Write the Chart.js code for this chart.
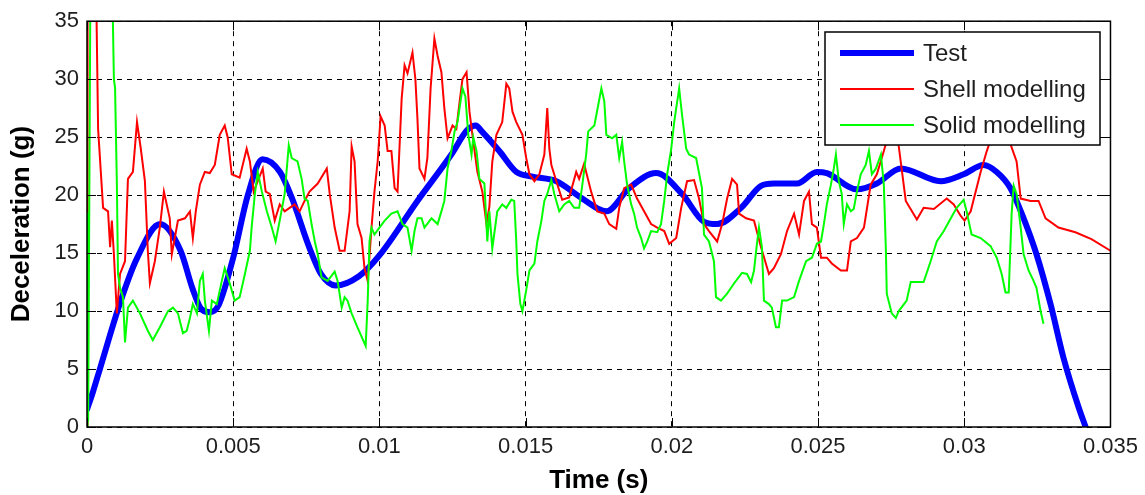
<!DOCTYPE html>
<html>
<head>
<meta charset="utf-8">
<title>Deceleration vs time</title>
<script src="https://cdn.jsdelivr.net/npm/chart.js@4.4.1/dist/chart.umd.min.js"></script>
<style>
  html, body { margin: 0; padding: 0; background: #fff; }
  #decel-chart { display: block; }
</style>
</head>
<body>
<canvas id="decel-chart" width="1145" height="495"></canvas>
<script>
'use strict';

// DATA (time in s, deceleration in g)

let timeTicks = ['0', '0.005', '0.01', '0.015', '0.02', '0.025', '0.03', '0.035'];
let decelTicks = ['0', '5', '10', '15', '20', '25', '30', '35'];

let seriesNames = ['Test', 'Shell modelling', 'Solid modelling'];

let testTime = [
  0, 0.0002, 0.00044, 0.00113, 0.0017, 0.0025, 0.0032, 0.0036, 0.0039, 0.0042,
  0.0045, 0.0050, 0.0055, 0.0060, 0.0066, 0.0070, 0.0076, 0.0080, 0.0085, 0.0093,
  0.0100, 0.0113, 0.01246, 0.0130, 0.0133, 0.0135, 0.0141, 0.01468, 0.01523, 0.01605,
  0.01694, 0.01776, 0.01854, 0.01946, 0.02035, 0.0211, 0.02155, 0.02237, 0.02305, 0.02349,
  0.02428, 0.02496, 0.0253, 0.02633, 0.02701, 0.02783, 0.02919, 0.02998, 0.03066, 0.03111,
  0.03158, 0.03203, 0.03247, 0.03295, 0.03339, 0.03391, 0.03415
];
let testDecel = [
  1.5, 3, 5, 10.7, 14.5, 17.5, 15.2, 12, 10.2, 9.9,
  10.5, 14.6, 20, 23.1, 22, 19.8, 15.5, 13.2, 12.2, 13,
  14.8, 19.5, 23.5, 25.6, 26, 25.5, 23.8, 22, 21.6, 21.2,
  19.7, 18.6, 20.6, 21.9, 20.1, 17.7, 17.5, 18.9, 20.8, 21,
  21, 22, 21.9, 20.5, 21, 22.3, 21.2, 21.8, 22.6, 22,
  20.6, 18, 14.9, 10.6, 6, 1.7, 0
];

let shellTime = [
  0, 0.00002, 0.00030, 0.00038, 0.00055, 0.00072, 0.00079, 0.00085, 0.00092, 0.00102,
  0.00113, 0.00130, 0.00140, 0.00157, 0.00171, 0.00184, 0.00198, 0.00208, 0.00215, 0.00232,
  0.00249, 0.00263, 0.00283, 0.00290, 0.00311, 0.00335, 0.00352, 0.00362, 0.00372, 0.00386,
  0.00403, 0.00420, 0.00437, 0.00454, 0.00471, 0.00481, 0.00495, 0.00522, 0.00546, 0.00557,
  0.00570, 0.00584, 0.00601, 0.00611, 0.00625, 0.00642, 0.00659, 0.00676, 0.00693, 0.00710,
  0.00727, 0.00744, 0.00761, 0.00789, 0.00820, 0.00830, 0.00847, 0.00864, 0.00881, 0.00898,
  0.00905, 0.00915, 0.00925, 0.00939, 0.00949, 0.00960, 0.00973, 0.00983, 0.00994, 0.01004,
  0.01018, 0.01028, 0.01041, 0.01052, 0.01062, 0.01076, 0.01086, 0.01096, 0.01113, 0.01123,
  0.01130, 0.01137, 0.01154, 0.01164, 0.01175, 0.01188, 0.01199, 0.01212, 0.01222, 0.01233,
  0.01250, 0.01263, 0.01274, 0.01284, 0.01298, 0.01308, 0.01318, 0.01335, 0.01352, 0.01366,
  0.01376, 0.01386, 0.01400, 0.01420, 0.01434, 0.01444, 0.01455, 0.01468, 0.01489, 0.01502,
  0.01513, 0.01530, 0.01547, 0.01564, 0.01574, 0.01581, 0.01588, 0.01605, 0.01625, 0.01649,
  0.01673, 0.01683, 0.01700, 0.01724, 0.01745, 0.01769, 0.01786, 0.01810, 0.01820, 0.01837,
  0.01861, 0.01881, 0.01905, 0.01929, 0.01950, 0.01974, 0.01991, 0.02015, 0.02032, 0.02052,
  0.02076, 0.02093, 0.02110, 0.02127, 0.02155, 0.02172, 0.02189, 0.02206, 0.02223, 0.02230,
  0.02254, 0.02281, 0.02305, 0.02332, 0.02349, 0.02373, 0.02394, 0.02418, 0.02435, 0.02452,
  0.02469, 0.02479, 0.02496, 0.02510, 0.02530, 0.02547, 0.02578, 0.02599, 0.02612, 0.02633,
  0.02657, 0.02680, 0.02701, 0.02725, 0.02749, 0.02762, 0.02776, 0.02800, 0.02838, 0.02861,
  0.02896, 0.02940, 0.02964, 0.02988, 0.03001, 0.03022, 0.03056, 0.03077, 0.03100, 0.03135,
  0.03158, 0.03179, 0.03193, 0.03227, 0.03254, 0.03278, 0.03322, 0.03380, 0.03435, 0.03500
];
let shellDecel = [
  0, 40, 40, 25.7, 18.9, 18.6, 15.5, 17.8, 14.9, 9.8,
  13.2, 14.3, 21.4, 22, 26.3, 24, 21.2, 15.2, 12.4, 14.3,
  17.2, 20.3, 18, 14.9, 17.8, 18, 18.6, 16.3, 18.6, 20.9,
  22, 21.9, 22.6, 25.2, 26, 25, 21.8, 21.5, 24, 22.9,
  20.3, 21.2, 22.3, 20.3, 20.1, 17.8, 19.2, 18.6, 18.9, 19.2,
  18.6, 19.5, 20.3, 21, 22.3, 20.1, 17.2, 15.2, 15.2, 18.6,
  24.2, 22.9, 17.5, 16.3, 13.7, 12.6, 17.2, 20.3, 22.9, 26.8,
  26, 23.8, 23.8, 20.6, 20.3, 28.3, 31.2, 30.5, 32.3, 30,
  26.6, 22.3, 21.4, 23.2, 29.2, 33.5, 32, 30.6, 27.5, 24.9,
  26, 25.7, 28, 30, 30.6, 27.2, 25.2, 22, 20.3, 17.5,
  19, 22.9, 25.2, 26.3, 29.6, 29.2, 27.2, 26.3, 25.2, 23.2,
  21.8, 21.2, 21.8, 23.5, 27.5, 24, 22.6, 21.2, 19.6, 19.8,
  22, 21.4, 22.7, 20.3, 18.6, 18.4, 17.5, 17.1, 18.9, 20.6,
  20.9, 19.7, 18.6, 17.5, 17.2, 16.9, 15.8, 16.3, 18.9, 21.2,
  21.3, 19.7, 17.5, 16.9, 16, 17.5, 19.7, 21.4, 20.9, 18.4,
  18, 17.8, 15.5, 13.2, 13.7, 14.9, 16.9, 18.4, 16.6, 19.5,
  20.3, 17.5, 17.2, 14.6, 14.6, 14.1, 13.5, 13.5, 16, 16.3,
  17.2, 20.9, 21.8, 23.8, 26, 26, 24.2, 19.5, 17.9, 18.9,
  18.8, 19.7, 19.2, 18.2, 17.8, 18.6, 22, 23.8, 25.5, 26,
  24.4, 22.9, 19.7, 19.5, 19.5, 18, 17.2, 16.8, 16.2, 15.2
];

let solidTime = [
  0, 0.00002, 0.00004, 0.00012, 0.00085, 0.00092, 0.00096, 0.00102, 0.00106, 0.00113,
  0.00123, 0.00130, 0.00140, 0.00157, 0.00181, 0.00208, 0.00225, 0.00249, 0.00277, 0.00294,
  0.00311, 0.00328, 0.00341, 0.00352, 0.00362, 0.00376, 0.00386, 0.00396, 0.00403, 0.00417,
  0.00427, 0.00444, 0.00461, 0.00471, 0.00488, 0.00505, 0.00522, 0.00540, 0.00557, 0.00563,
  0.00574, 0.00584, 0.00598, 0.00615, 0.00632, 0.00645, 0.00659, 0.00676, 0.00690, 0.00700,
  0.00720, 0.00734, 0.00744, 0.00755, 0.00768, 0.00779, 0.00789, 0.00802, 0.00823, 0.00847,
  0.00857, 0.00871, 0.00881, 0.00891, 0.00905, 0.00925, 0.00953, 0.00960, 0.00966, 0.00973,
  0.00983, 0.01000, 0.01018, 0.01041, 0.01062, 0.01079, 0.01096, 0.01110, 0.01120, 0.01130,
  0.01144, 0.01154, 0.01178, 0.01199, 0.01212, 0.01222, 0.01233, 0.01246, 0.01257, 0.01267,
  0.01284, 0.01294, 0.01304, 0.01315, 0.01321, 0.01332, 0.01342, 0.01359, 0.01369, 0.01376,
  0.01386, 0.01403, 0.01420, 0.01434, 0.01451, 0.01461, 0.01468, 0.01472, 0.01482, 0.01489,
  0.01502, 0.01513, 0.01530, 0.01540, 0.01554, 0.01564, 0.01574, 0.01588, 0.01598, 0.01615,
  0.01632, 0.01649, 0.01666, 0.01683, 0.01694, 0.01707, 0.01714, 0.01735, 0.01759, 0.01769,
  0.01776, 0.01796, 0.01810, 0.01820, 0.01830, 0.01837, 0.01847, 0.01861, 0.01871, 0.01881,
  0.01895, 0.01905, 0.01916, 0.01929, 0.01950, 0.01963, 0.01974, 0.01984, 0.01998, 0.02008,
  0.02025, 0.02035, 0.02049, 0.02059, 0.02083, 0.02103, 0.02110, 0.02127, 0.02144, 0.02151,
  0.02168, 0.02189, 0.02213, 0.02240, 0.02257, 0.02271, 0.02281, 0.02291, 0.02298, 0.02308,
  0.02315, 0.02332, 0.02342, 0.02356, 0.02366, 0.02377, 0.02394, 0.02418, 0.02435, 0.02459,
  0.02479, 0.02496, 0.02510, 0.02520, 0.02530, 0.02544, 0.02554, 0.02561, 0.02571, 0.02581,
  0.02588, 0.02599, 0.02612, 0.02622, 0.02633, 0.02646, 0.02663, 0.02674, 0.02684, 0.02698,
  0.02715, 0.02725, 0.02732, 0.02735, 0.02752, 0.02766, 0.02776, 0.02803, 0.02817, 0.02861,
  0.02885, 0.02906, 0.02930, 0.02954, 0.02974, 0.02998, 0.03008, 0.03025, 0.03056, 0.03090,
  0.03111, 0.03128, 0.03141, 0.03152, 0.03162, 0.03169, 0.03179, 0.03193, 0.03203, 0.03220,
  0.03237, 0.03247, 0.03261, 0.03271
];
let solidDecel = [
  0, 18.5, 0.5, 40, 40, 30, 29.2, 21.2, 13.2, 12,
  11.2, 7.3, 10.3, 10.9, 9.8, 8.3, 7.5, 8.6, 10, 10.3,
  9.8, 8.1, 8.3, 9.4, 10.6, 9.8, 12.6, 13.2, 10.9, 8.3,
  10.9, 10.6, 12.6, 13.7, 12.4, 10.9, 11.2, 13.2, 15.2, 17.2,
  20.1, 22, 20.3, 18.6, 17.2, 16, 17.8, 20.1, 24.3, 23.2,
  22.9, 21.4, 19.7, 19.5, 17.5, 16, 14.9, 12.9, 12.6, 13.4,
  12.6, 10.3, 11.2, 10.9, 9.8, 8.6, 7, 10.9, 16, 17.2,
  16.6, 17.2, 17.8, 18.4, 18.6, 17.5, 17.2, 15.2, 16.9, 18,
  18, 17.2, 18, 17.5, 18.6, 19.5, 22.3, 23.8, 25.5, 26.3,
  29.2, 28.5, 25.2, 23.5, 25, 23.8, 21.4, 21, 16, 18.6,
  15.4, 18.6, 19.2, 18.9, 19.6, 19.5, 16, 13.2, 10.6, 10,
  11.8, 13.5, 14.1, 16, 17.8, 19.5, 20.1, 21.3, 20.1, 18.6,
  19.2, 19.5, 18.9, 18.9, 20.9, 23.5, 25.5, 26, 29.2, 28.1,
  25.2, 24.9, 25.2, 23.2, 24.6, 22.9, 20.9, 19.2, 18.4, 17.2,
  16.3, 15.4, 16, 16.9, 16.8, 17.5, 19.5, 21.8, 24, 26.3,
  29.2, 26.9, 24, 23.5, 23.2, 20.6, 16.6, 16, 14.3, 11.2,
  10.9, 11.5, 12.4, 13.3, 13.2, 12.5, 13.5, 15.8, 17.2, 15.5,
  10.9, 10.6, 10.3, 8.6, 8.6, 10.9, 10.9, 11.2, 12.6, 14.3,
  14.6, 15.8, 16, 17.5, 19.2, 20.9, 22.3, 23.5, 21.2, 20.1,
  17.5, 19.2, 18.6, 18.8, 20.3, 21.8, 22.6, 23.8, 21.8, 22.3,
  23.5, 20.9, 15.2, 11.5, 9.8, 9.4, 10, 10.9, 12.5, 12.5,
  14.3, 16, 16.9, 18, 18.9, 19.6, 18.6, 16.6, 16.3, 15.6,
  14.6, 13.2, 11.6, 11.6, 18.4, 20.8, 20.1, 17.2, 14.9, 13.5,
  12.6, 12, 10, 8.9
];

// HELPERS

function toPoints(times, values) {
  let pts = [];
  for (let i = 0; i < times.length; i++) {
    pts.push({ x: times[i], y: values[i] });
  }
  return pts;
}

let fontName = '"Liberation Sans", Arial, sans-serif';
let textColor = '#1e1e1e';

// box, inward ticks and the legend, drawn over the lines like matlab does
let matlabAxes = {
  id: 'matlabAxes',
  afterDatasetsDraw(chart) {
    let ctx = chart.ctx;
    let area = chart.chartArea;
    let xs = chart.scales.x;
    let ys = chart.scales.y;
    let tick = 9;

    ctx.save();
    ctx.strokeStyle = '#000';
    ctx.lineWidth = 1;
    ctx.setLineDash([]);

    ctx.beginPath();
    for (let i = 0; i < timeTicks.length; i++) {
      let px = Math.round(xs.getPixelForValue(Number(timeTicks[i]))) + 0.5;
      ctx.moveTo(px, area.bottom);
      ctx.lineTo(px, area.bottom - tick);
      ctx.moveTo(px, area.top);
      ctx.lineTo(px, area.top + tick);
    }
    for (let i = 0; i < decelTicks.length; i++) {
      let py = Math.round(ys.getPixelForValue(Number(decelTicks[i]))) + 0.5;
      ctx.moveTo(area.left, py);
      ctx.lineTo(area.left + tick, py);
      ctx.moveTo(area.right, py);
      ctx.lineTo(area.right - tick, py);
    }
    ctx.stroke();

    ctx.lineWidth = 1.5;
    ctx.strokeRect(area.left, area.top, area.right - area.left, area.bottom - area.top);

    // legend
    let box = { x: 825, y: 32, w: 275, h: 113 };
    ctx.fillStyle = '#fff';
    ctx.fillRect(box.x, box.y, box.w, box.h);
    ctx.lineWidth = 1.5;
    ctx.strokeRect(box.x, box.y, box.w, box.h);

    ctx.font = '24px ' + fontName;
    ctx.textBaseline = 'middle';
    ctx.textAlign = 'left';
    let sets = chart.data.datasets;
    for (let i = 0; i < sets.length; i++) {
      let ly = box.y + 21 + i * 36;
      ctx.strokeStyle = sets[i].borderColor;
      ctx.lineWidth = sets[i].borderWidth;
      ctx.beginPath();
      ctx.moveTo(box.x + 15, ly);
      ctx.lineTo(box.x + 89, ly);
      ctx.stroke();
      ctx.fillStyle = textColor;
      ctx.fillText(sets[i].label, box.x + 98, ly + 1);
    }
    ctx.restore();
  }
};

// CHART

let ctx = document.getElementById('decel-chart').getContext('2d');

let chartObj = {
  type: 'line',
  data: {
    datasets: [{
      label: seriesNames[0],
      data: toPoints(testTime, testDecel),
      borderColor: '#0000ff',
      borderWidth: 6,
      cubicInterpolationMode: 'monotone',
      borderCapStyle: 'round',
      borderJoinStyle: 'round',
      order: 3
    },
    {
      label: seriesNames[1],
      data: toPoints(shellTime, shellDecel),
      borderColor: '#ff0000',
      borderWidth: 2,
      order: 2
    },
    {
      label: seriesNames[2],
      data: toPoints(solidTime, solidDecel),
      borderColor: '#00ff00',
      borderWidth: 2,
      order: 1
    }]
  },
  options: {
    responsive: false,
    animation: false,
    events: [],
    elements: {
      point: { radius: 0 },
      line: { tension: 0, fill: false }
    },
    layout: {
      padding: { top: 19, right: 33, left: 0, bottom: 0 }
    },
    plugins: {
      legend: { display: false },
      tooltip: { enabled: false }
    },
    scales: {
      x: {
        type: 'linear',
        min: 0,
        max: 0.035,
        afterFit: function (scale) { scale.height = 68; },
        ticks: {
          stepSize: 0.005,
          padding: 7,
          color: textColor,
          font: { family: fontName, size: 22 },
          maxRotation: 0,
          autoSkip: false,
          callback: function (value, index) { return timeTicks[index]; }
        },
        grid: { color: '#000', lineWidth: 1, drawTicks: false },
        border: { display: false, dash: [5, 5] },
        title: {
          display: true,
          text: 'Time (s)',
          color: '#000',
          font: { family: fontName, size: 26, weight: 'bold', lineHeight: 1 },
          padding: { top: 0, bottom: 1 }
        }
      },
      y: {
        type: 'linear',
        min: 0,
        max: 35,
        afterFit: function (scale) { scale.width = 87; },
        ticks: {
          stepSize: 5,
          padding: 8,
          color: textColor,
          font: { family: fontName, size: 22 },
          callback: function (value, index) { return decelTicks[index]; }
        },
        grid: { color: '#000', lineWidth: 1, drawTicks: false },
        border: { display: false, dash: [5, 5] },
        title: {
          display: true,
          text: 'Deceleration (g)',
          color: '#000',
          font: { family: fontName, size: 26, weight: 'bold', lineHeight: 1 },
          padding: { top: 9, bottom: 0 }
        }
      }
    }
  },
  plugins: [matlabAxes]
};

new Chart(ctx, chartObj);
</script>
</body>
</html>
